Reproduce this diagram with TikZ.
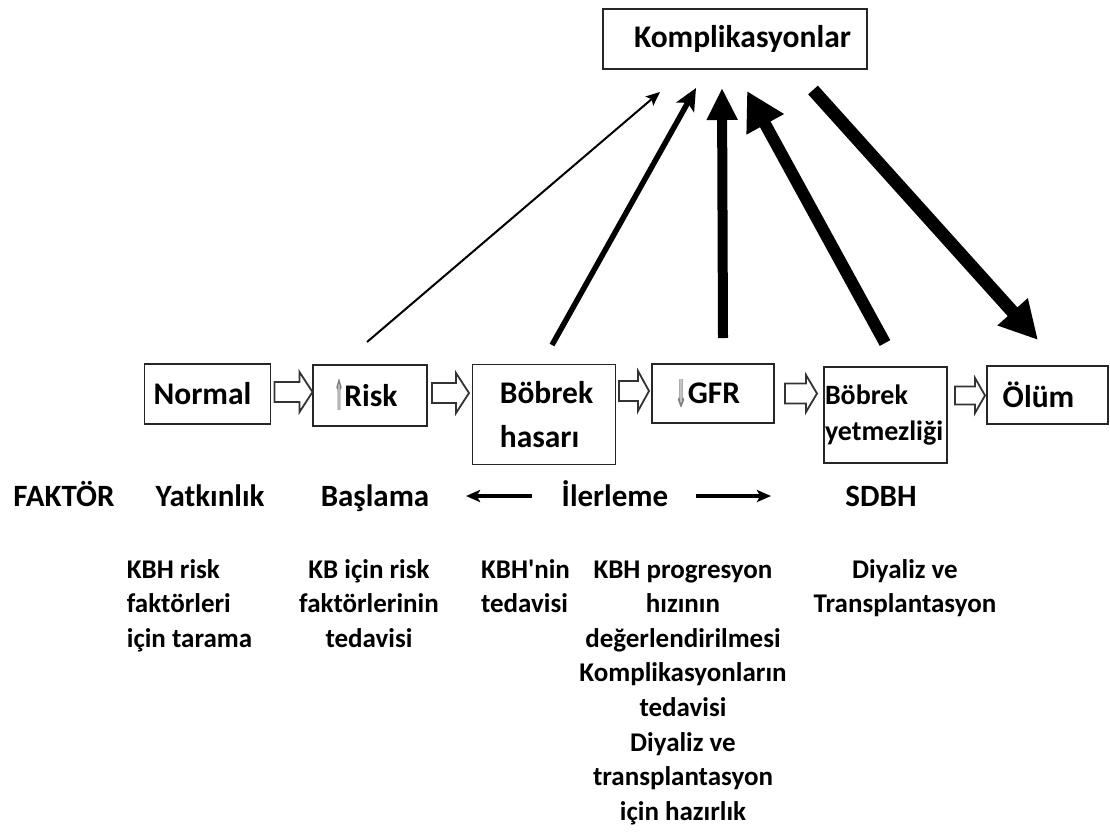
\documentclass[tikz,border=0pt]{standalone}
\usepackage{fontspec}
\usepackage{graphicx}
\setmainfont{Carlito}
\newfontfamily\symf{DejaVu Sans}
\newfontfamily\qf{Carlito}
\usetikzlibrary{arrows.meta,calc}
\newcommand{\upar}{\smash{\raisebox{-4pt}{\textcolor{black!50}{\resizebox{10pt}{31pt}{\symf ⇑}}}}}
\newcommand{\dnar}{\smash{\raisebox{-4pt}{\textcolor{black!50}{\resizebox{12pt}{28pt}{\symf ⇓}}}}}
\newcommand{\sq}{{\qf\bfseries '}}
\begin{document}
\begin{tikzpicture}[x=1pt,y=-1pt,
  box/.style={draw=black!85, line width=1.6pt, inner sep=0pt, font=\fontsize{31.5}{38}\selectfont\bfseries},
  rowlab/.style={anchor=base, inner sep=0pt, font=\fontsize{31}{37}\selectfont\bfseries},
  note/.style={anchor=base, inner sep=0pt, font=\fontsize{27}{34.6}\selectfont\bfseries},
  thinarr/.style={line width=3.2pt, -{Stealth[length=14pt,width=12pt,inset=3pt]}},
  pics/harr/.style n args={4}{code={
    \draw[draw=black!80, line width=1.8pt, line join=miter, fill=white]
      (-#1/2,-#3/2) -- (#1/2-#4,-#3/2) -- (#1/2-#4,-#2/2) -- (#1/2,0)
      -- (#1/2-#4,#2/2) -- (#1/2-#4,#3/2) -- (-#1/2,#3/2) -- cycle;}}
]
\useasboundingbox (0,0) rectangle (1110,831);

% boxes
\node[box, minimum width=264pt, minimum height=60pt] (komp) at (735,39) {\hspace*{15pt}Komplikasyonlar};
\node[box, minimum width=126pt, minimum height=60pt] (normal) at (207.5,394) {Normal\hspace*{10pt}};
\node[box, minimum width=113.5pt, minimum height=61pt] (risk) at (370,395.5) {\upar Risk\hspace*{8pt}};
\node[box, minimum width=143pt, minimum height=100pt, align=left, font=\fontsize{31.5}{44}\selectfont\bfseries] (hasari) at (544,414.3) {\hspace*{5pt}Böbrek\\\hspace*{5pt}hasarı};
\node[box, minimum width=122pt, minimum height=59pt] (gfr) at (713,393.5) {\dnar GFR\hspace*{10pt}};
\node[box, minimum width=123pt, minimum height=96pt, align=left, text width=121pt, inner xsep=1pt, font=\fontsize{28}{36}\selectfont\bfseries] (by) at (885.5,415) {Böbrek\\yetmezliği};
\node[box, minimum width=121pt, minimum height=58pt] (olum) at (1047.5,395) {Ölüm\hspace*{18pt}};

% hollow block arrows
\pic (h1) at (293.5,392) {harr={38}{40}{20}{13}};
\pic (h2) at (450.5,393) {harr={37}{40}{20}{13}};
\pic (h3) at (634,391) {harr={30}{40}{20}{11}};
\pic (h4) at (801,393.5) {harr={32}{37}{20}{11}};
\pic (h5) at (970,395.5) {harr={30}{35}{18}{10}};

% diagonal arrows
\coordinate (s1) at (367,342);  \coordinate (t1) at (660,92);
\coordinate (s2) at (552,345);  \coordinate (t2) at (696,88);
\coordinate (s3) at (723,338);  \coordinate (t3) at (722,88);
\coordinate (s4) at (885,343);  \coordinate (t4) at (747,91);
\coordinate (s5) at (813,90);   \coordinate (t5) at (1038,340);
\draw[line width=2pt, -{Stealth[length=14pt,width=12pt,inset=3pt]}] (s1) -- (t1);
\draw[line width=5.5pt, -{Stealth[length=22pt,width=20pt,inset=5pt]}] (s2) -- (t2);
\draw[line width=10pt, -{Triangle[length=32pt,width=29pt]}] (s3) -- (t3);
\draw[line width=12pt, -{Triangle[length=38pt,width=40pt]}] (s4) -- (t4);
\draw[line width=13pt, -{Triangle[length=38pt,width=38pt]}] (s5) -- (t5);

% row labels
\node[rowlab] (faktor) at (64,506) {FAKTÖR};
\node[rowlab] (yatk) at (210,506) {Yatkınlık};
\node[rowlab] (basl) at (375,506) {Başlama};
\node[rowlab] (iler) at (615,506) {İlerleme};
\node[rowlab] (sdbh) at (881,506) {SDBH};
\coordinate (la1) at (532,496); \coordinate (la2) at (466,496);
\coordinate (ra1) at (696,496); \coordinate (ra2) at (771,496);
\draw[thinarr] (la1) -- (la2);
\draw[thinarr] (ra1) -- (ra2);

% notes (anchor base = baseline of last line)
\node[note, align=left] (n1) at (189.5,647.2) {KBH risk\\faktörleri\\için tarama};
\node[note, align=center] (n2) at (369,647.2) {KB için risk\\faktörlerinin\\tedavisi};
\node[note, align=left] (n3) at (525.5,612.6) {KBH\sq nin\\tedavisi};
\node[note, align=center] (n4) at (683,820.2) {KBH progresyon\\hızının\\değerlendirilmesi\\Komplikasyonların\\tedavisi\\Diyaliz ve\\transplantasyon\\için hazırlık};
\node[note, align=center] (n5) at (905,612.6) {Diyaliz ve\\Transplantasyon};
\end{tikzpicture}
\end{document}
